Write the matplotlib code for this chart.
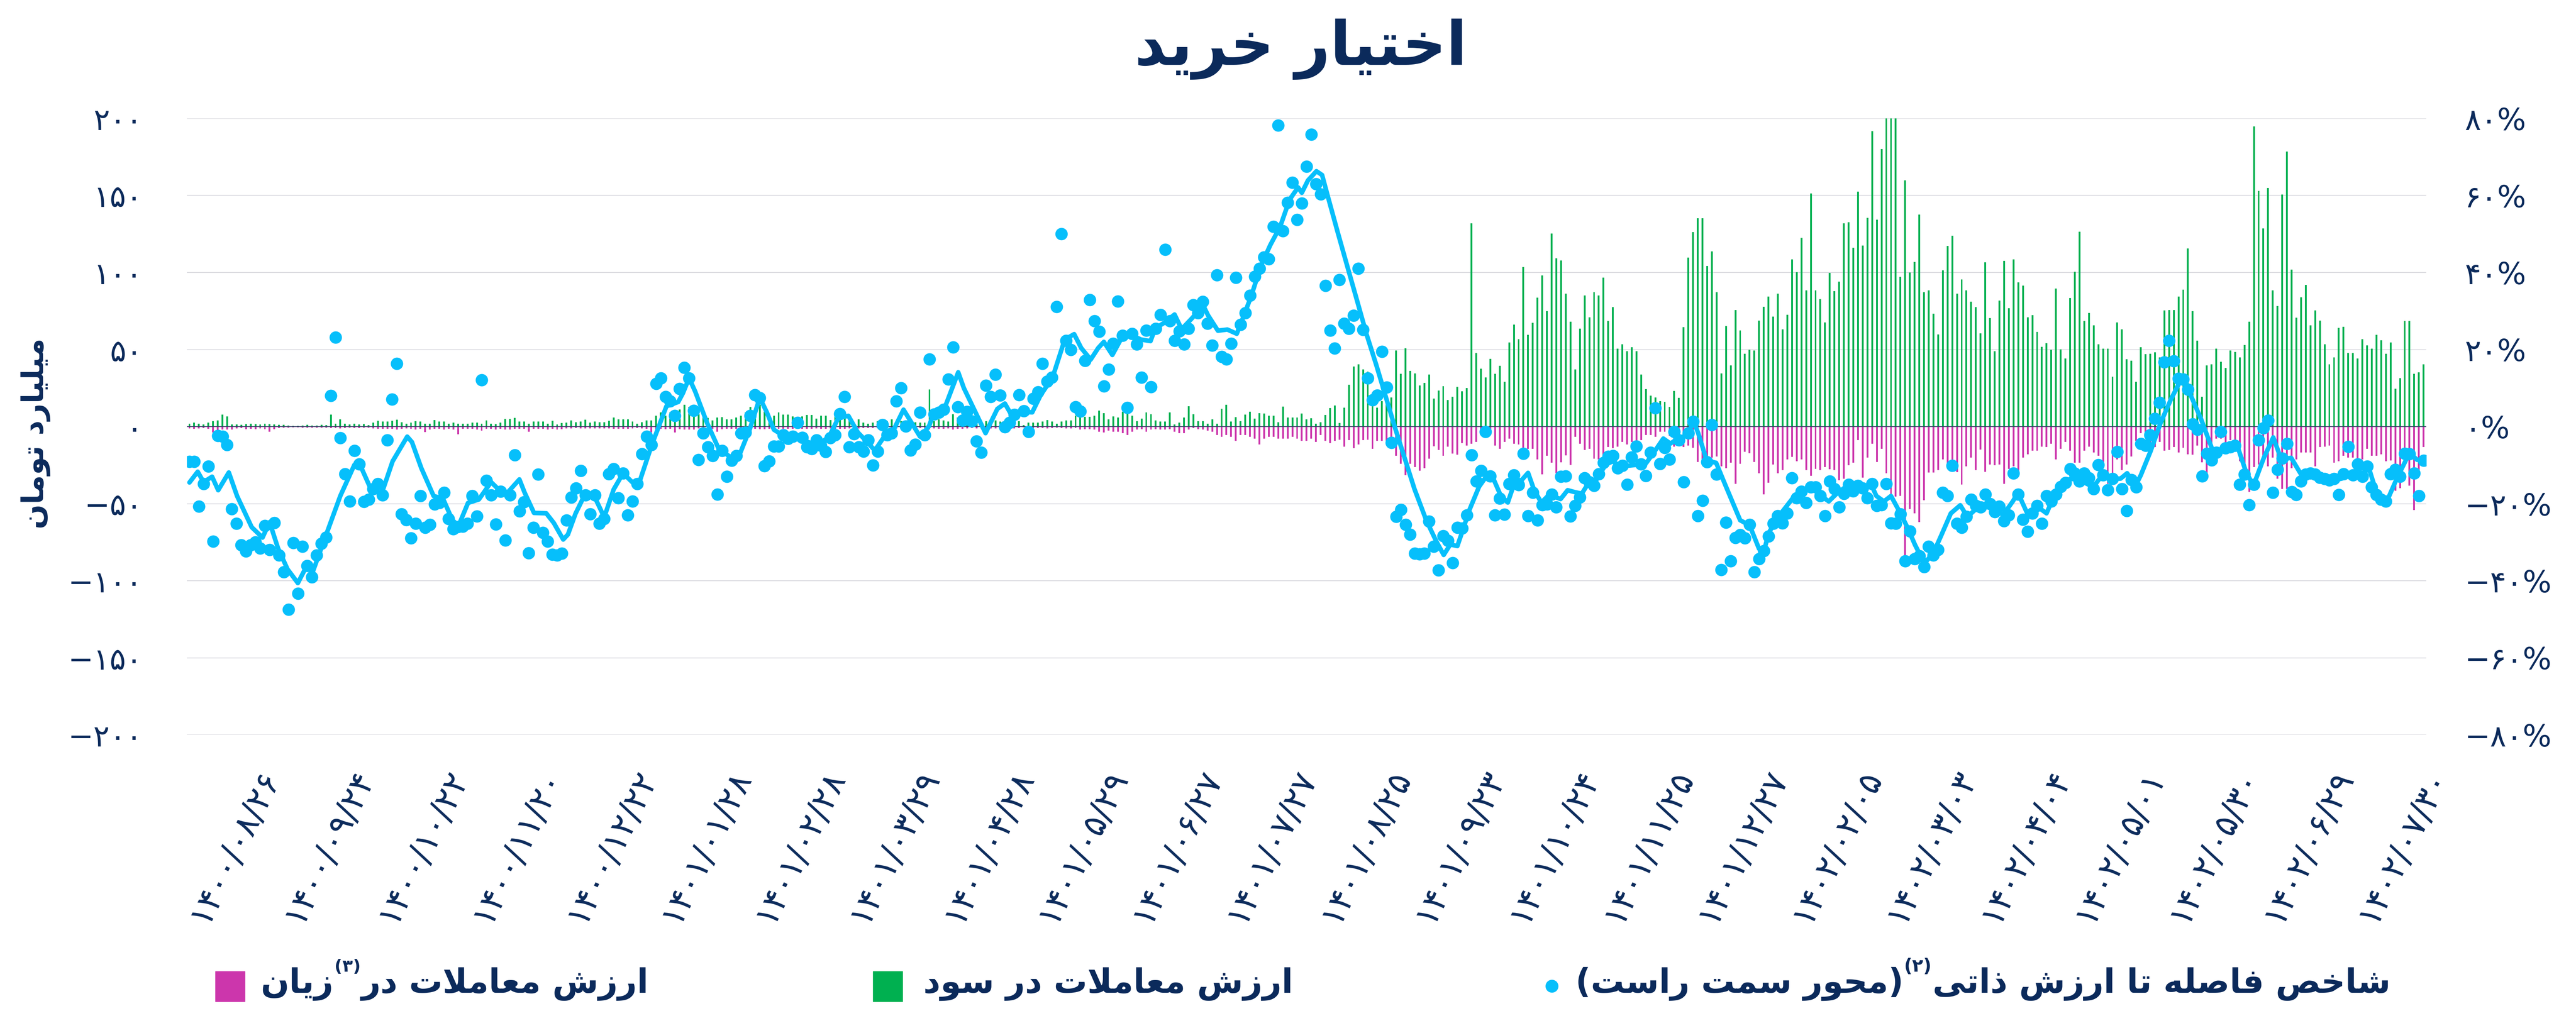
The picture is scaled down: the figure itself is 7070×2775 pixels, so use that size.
import numpy as np
import matplotlib
matplotlib.use("Agg")
import matplotlib.pyplot as plt
from matplotlib.patches import Rectangle, Ellipse

# ---------------- data ----------------
dates = ['۱۴۰۰/۰۸/۲۶', '۱۴۰۰/۰۹/۲۴', '۱۴۰۰/۱۰/۲۲', '۱۴۰۰/۱۱/۲۰', '۱۴۰۰/۱۲/۲۲',
         '۱۴۰۱/۰۱/۲۸', '۱۴۰۱/۰۲/۲۸', '۱۴۰۱/۰۳/۲۹', '۱۴۰۱/۰۴/۲۸', '۱۴۰۱/۰۵/۲۹',
         '۱۴۰۱/۰۶/۲۷', '۱۴۰۱/۰۷/۲۷', '۱۴۰۱/۰۸/۲۵', '۱۴۰۱/۰۹/۲۳', '۱۴۰۱/۱۰/۲۴',
         '۱۴۰۱/۱۱/۲۵', '۱۴۰۱/۱۲/۲۷', '۱۴۰۲/۰۲/۰۵', '۱۴۰۲/۰۳/۰۳', '۱۴۰۲/۰۴/۰۴',
         '۱۴۰۲/۰۵/۰۱', '۱۴۰۲/۰۵/۳۰', '۱۴۰۲/۰۶/۲۹', '۱۴۰۲/۰۷/۳۰']
date_pos = [14 + 20 * k for k in range(len(dates))]

# value of trades in profit (billion toman)
profit = [
    1.8, 2.5, 2.0, 1.4, 2.5, 3.6, 4.1, 7.7, 6.6, 1.4, 1.4, 1.1, 1.6, 1.8, 1.6, 1.4, 1.8, 1.6, 1.4, 1.1,
    1.1, 0.7, 0.5, 0.5, 0.7, 1.1, 0.7, 0.7, 1.1, 0.9, 7.7, 1.8, 4.8, 1.8, 1.4, 1.8, 1.4, 1.6, 0.9, 2.7,
    3.8, 3.2, 3.2, 3.8, 4.5, 2.9, 1.8, 2.7, 3.6, 3.2, 1.8, 2.0, 4.3, 3.4, 3.4, 1.8, 2.7, 1.8, 1.8, 1.8,
    2.5, 2.5, 1.8, 4.1, 2.0, 1.6, 2.7, 5.0, 5.0, 5.7, 3.4, 3.4, 2.0, 3.4, 3.4, 3.2, 2.0, 3.8,
    1.4, 2.3, 2.5, 4.1, 2.9, 3.2, 4.5, 2.7, 3.4, 2.9, 2.9, 3.8, 5.9, 4.8, 4.8, 4.8, 3.2, 2.0, 2.9, 4.1,
    4.1, 7.0, 9.3, 7.0, 9.3, 7.0, 11.1, 14.3, 12.7, 11.1, 8.1, 7.0, 5.7, 4.1, 5.9, 6.1, 4.8, 4.8, 5.9, 7.0,
    9.3, 12.7, 8.4, 14.3, 9.7, 7.0, 7.0, 9.3, 7.9, 7.7, 6.6, 6.1, 6.6, 7.5, 7.5, 5.2, 7.0, 7.0, 4.3, 8.1,
    9.3, 7.0, 4.1, 2.5, 4.8, 2.5, 1.8, 2.5, 3.6, 3.6, 3.6, 4.8, 3.6, 3.6, 4.1, 3.2, 2.9, 2.5, 2.5, 24.0,
    3.6, 4.8, 4.1, 3.2, 8.1, 5.9, 4.8, 3.6, 2.9, 3.2, 3.2, 3.6, 3.2, 4.1, 3.2, 2.9, 3.2, 2.9, 3.6, 0.9,
    2.5, 2.5, 2.7, 3.2, 4.3, 3.2, 2.0, 3.2, 4.1, 4.1, 7.0, 7.0, 6.3, 6.3, 7.0, 10.4, 8.8, 4.8, 6.6, 5.9,
    9.7, 9.3, 7.0, 3.6, 5.2, 9.3, 8.1, 4.1, 3.2, 3.2, 9.3, 1.4, 2.5, 5.9, 13.3, 8.1, 3.6, 3.6, 1.8, 4.8,
    1.8, 11.5, 14.3, 3.2, 6.1, 3.6, 7.9, 9.7, 5.2, 8.8, 8.4, 7.0, 7.0, 2.9, 13.1, 5.9, 5.9, 5.9,
    8.6, 4.8, 5.4, 2.0, 2.9, 7.5, 12.0, 13.8, 2.3, 12.2, 27.1, 38.9, 40.5, 37.1, 35.7, 18.3, 12.2, 16.5, 17.2,
    18.8, 49.3, 34.2, 50.9, 36.2, 34.6, 26.7, 28.3, 33.9, 18.3, 23.3, 26.2, 17.2, 19.5, 25.8, 22.9, 25.1,
    131.9, 47.7, 37.6, 31.9, 43.9, 34.2, 39.4, 29.0, 54.5, 66.3, 56.8, 103.6, 59.5, 67.4, 83.7, 98.2, 74.9,
    125.3, 109.3, 107.7, 86.2, 68.1, 37.1, 63.6, 85.1, 71.0, 87.3, 85.1, 96.8, 68.6, 77.6, 50.5, 53.4,
    48.9, 51.6, 48.9, 33.7, 24.4, 20.1, 18.8, 16.5, 16.1, 12.7,
    23.1, 18.6, 64.5, 109.7, 126.2, 135.3, 135.3, 104.3, 113.8, 87.3, 34.6, 65.2, 39.8, 75.6, 62.4, 47.3,
    50.0, 49.5, 68.8, 77.8, 84.4, 71.5, 86.2, 63.1, 72.6, 108.6, 100.2, 122.4, 88.5, 151.4, 88.5, 82.8,
    67.6, 99.8, 88.0, 94.1, 131.9, 132.6, 116.1, 152.5, 117.4, 135.5, 191.8, 134.2, 180.1, 215.0, 225.0,
    210.0, 97.1, 159.7, 100.0, 106.8, 137.6, 87.3, 88.5, 73.3, 59.7, 101.4, 117.2, 123.9, 86.4, 95.5,
    88.5, 81.0, 77.6, 60.6, 106.6, 70.4, 48.9, 81.7, 107.5, 76.9, 108.6, 93.7, 91.4, 71.0, 72.3, 61.5, 51.8,
    54.1, 49.8, 89.6, 50.2, 44.1, 83.5, 100.5, 126.5, 68.6, 73.8, 65.8, 53.4, 50.5, 50.7, 32.3, 67.6,
    63.1, 43.7, 42.8, 29.0, 51.6, 47.1, 47.3, 48.2, 45.0, 75.3, 75.6, 75.6, 84.4, 88.9, 115.6, 74.9,
    55.7, 19.5, 39.8, 40.5, 50.5, 42.1, 38.0, 49.5, 48.4, 45.0, 52.9, 68.1, 194.8, 152.9, 128.5, 154.8,
    88.5, 78.3, 150.7, 178.5, 101.9, 70.8, 83.9, 91.9, 65.8, 75.3, 68.8, 53.4, 40.5, 44.8, 64.0, 64.7,
    47.7, 47.7, 44.3, 56.8, 52.7, 50.5, 59.5, 56.1, 47.3, 54.5, 24.6, 31.4, 68.6, 68.6, 34.2, 35.3, 40.5]

# value of trades in loss (billion toman, magnitude)
loss = [
    1.2, 1.5, 1.2, 1.0, 1.5, 3.8, 3.2, 1.8, 2.0, 2.0, 1.2, 1.0, 1.6, 1.5, 1.6, 1.2, 1.6, 3.2, 1.6, 1.0,
    0.8, 0.6, 0.5, 0.5, 0.6, 0.8, 0.6, 0.6, 0.8, 0.8, 1.0, 1.0, 1.2, 1.0, 0.8, 1.0, 1.0, 0.8, 0.8, 1.2,
    1.5, 1.5, 1.5, 1.5, 1.8, 1.5, 1.2, 1.5, 1.8, 1.5, 3.6, 1.8, 1.5, 1.5, 1.8, 1.5, 1.8, 5.0, 1.5, 1.5,
    1.5, 1.8, 2.5, 1.5, 1.5, 1.8, 1.5, 1.8, 1.8, 1.5, 1.5, 1.5, 3.2, 1.5, 1.5, 1.5, 1.8, 1.5,
    2.0, 1.6, 1.2, 1.2, 1.0, 1.2, 1.2, 1.2, 1.2, 1.2, 1.2, 1.2, 1.5, 1.5, 1.5, 1.5, 1.2, 1.0, 1.2, 1.5,
    3.8, 1.6, 1.5, 1.6, 1.5, 3.8, 1.6, 2.0, 2.0, 2.0, 1.2, 1.2, 1.5, 1.5, 3.2, 1.6, 1.5, 1.5, 1.5, 1.6,
    1.5, 1.6, 1.5, 1.6, 1.6, 1.5, 1.5, 1.5, 1.5, 1.5, 1.5, 1.5, 1.5, 1.5, 1.5, 1.2, 1.5, 1.5, 1.2, 1.5,
    1.5, 1.5, 1.2, 1.0, 1.2, 1.0, 1.0, 1.0, 1.0, 1.2, 1.2, 1.2, 1.2, 1.2, 1.2, 1.0, 1.0, 1.0, 1.0, 2.0,
    1.2, 1.5, 1.5, 1.2, 2.0, 1.5, 1.5, 1.2, 1.0, 1.2, 1.2, 1.2, 1.2, 1.2, 1.2, 1.0, 1.0, 1.2, 1.0, 0.5,
    1.0, 1.0, 1.0, 1.0, 1.2, 1.0, 0.8, 1.0, 1.2, 1.2,
    0.9, 2.0, 1.6, 1.6, 2.0, 3.2, 3.8, 2.5, 3.2, 3.2, 4.3, 5.4, 3.2, 2.0, 1.6, 3.2, 2.0, 1.6, 2.0, 2.0,
    1.6, 3.2, 4.3, 4.3, 2.0, 0.9, 1.6, 2.0, 2.5, 3.2, 5.4, 6.6, 5.4, 6.6, 9.3, 5.4, 5.4, 6.6, 7.7, 11.5,
    7.7, 6.6, 6.6, 7.7, 7.7, 7.7, 6.6, 7.7,
    9.3, 9.3, 7.7, 10.0, 5.4, 9.3, 10.6, 9.3, 8.4, 12.9, 8.8, 14.0, 11.5, 8.8, 8.4, 14.5, 9.3, 9.3, 9.3,
    11.8, 19.0, 24.2, 31.4, 24.2, 26.2, 28.5, 26.9, 20.8, 12.7, 15.2, 19.0, 12.9, 17.4, 18.3, 10.6, 12.2,
    11.1, 10.0, 5.4, 5.4, 5.4, 12.2, 14.5, 10.0, 7.7, 11.1, 11.5, 14.5, 14.5, 14.5, 21.3, 31.0, 19.0,
    23.5, 30.3, 23.1, 18.6, 24.9, 6.6, 11.1, 15.2, 14.5, 20.8, 21.3, 20.1, 13.3, 14.0, 12.9, 10.0,
    11.5, 10.0, 10.0, 8.8, 5.4, 5.4, 6.6, 3.2, 3.2, 6.0,
    13.0, 12.2, 13.3, 12.2, 13.8, 22.9, 21.3, 25.8, 20.1, 19.5, 25.8, 26.9, 23.5, 37.1, 24.0, 16.3,
    17.2, 22.9, 30.3, 43.9, 36.4, 24.7, 30.3, 28.1, 21.3, 19.7, 22.4, 21.3, 28.1, 31.9, 27.4, 28.1,
    26.2, 27.6, 28.1, 34.8, 33.7, 25.1, 23.5, 8.8, 33.0, 20.1, 11.1, 22.9, 14.5, 30.3, 45.5, 45.5,
    45.0, 83.5, 53.4, 56.3, 61.9, 47.7, 29.9, 29.9, 28.1, 21.3, 26.9, 24.7, 29.6, 37.6, 25.8, 20.1,
    28.1, 15.0, 29.2, 24.7, 25.1, 24.7, 37.1, 27.4, 25.8, 29.6, 20.1, 17.9, 15.6, 15.6, 12.9,
    13.3, 11.1, 21.3, 14.5, 10.0, 15.6, 23.5, 23.5, 15.6, 12.9, 16.7, 19.0, 26.9, 37.1, 31.4, 21.3,
    28.1, 24.7, 19.5, 9.3, 4.3, 6.6, 12.2, 13.3, 10.0, 15.6, 15.2, 13.3, 16.7, 13.8, 17.9, 18.3,
    12.2, 23.1, 32.6, 20.1, 7.7, 7.7, 11.1, 8.8, 11.1, 22.4, 33.7, 42.3, 26.2, 24.7, 20.1, 25.8,
    20.1, 33.7, 40.5, 40.5, 26.9, 21.3, 16.7, 16.7, 16.7, 25.8, 13.3, 12.9, 12.2, 23.5, 22.4, 19.0,
    20.1, 20.1, 21.3, 21.3, 14.5, 19.0, 19.0, 17.9, 22.4, 21.9, 41.6, 40.0, 22.4, 38.2, 54.1, 32.6, 13.2]

# gap to intrinsic value index (%), daily points
gap_pct = [
    -9.1, -9.1, -20.7, -14.8, -10.3, -29.8, -2.4, -2.6, -4.7, -21.4, -25.2, -30.7, -32.3, -30.7, -30.0,
    -31.6, -25.7, -32.0, -25.0, -33.4, -37.7, -47.5, -30.2, -43.3, -31.1, -36.1, -39.1, -33.4, -30.4,
    -28.7, 8.0, 23.2, -2.9, -12.3, -19.4, -6.2, -9.7, -19.5, -18.9, -16.2, -14.8, -17.8, -3.5, 7.1, 16.4,
    -22.7, -24.2, -28.9, -25.2, -18.0, -26.2, -25.4, -20.1, -19.8, -17.1, -23.9, -26.6, -26.0, -25.9,
    -25.2, -18.0, -23.3, 12.1, -14.0, -17.8, -25.3, -16.8, -29.5, -17.8, -7.4, -21.9, -19.6, -32.8,
    -26.2, -12.4, -27.5, -29.8, -33.2,
    -33.4, -32.9, -24.3, -18.3, -16.0, -11.4, -17.8, -22.7, -17.8, -25.2, -23.9, -12.3, -11.0, -18.5,
    -12.1, -23.0, -19.4, -14.8, -7.1, -2.6, -4.7, 11.2, 12.6, 7.8, 6.6, 2.8, 9.8, 15.3, 12.6, 4.2, -8.6,
    -1.7, -5.3, -7.6, -17.6, -6.2, -13.0, -8.8, -7.6, -1.7, -1.5, 2.8, 8.2, 7.5, -10.2, -9.0, -5.1, -5.1,
    -2.2, -3.1, -2.6, 1.0, -2.8, -5.3, -5.8, -3.5, -4.9, -6.5, -2.9, -2.2, 3.3, 7.8, -5.3, -1.9, -5.3,
    -6.4, -3.5, -10.0, -6.4, 0.5, -2.2, -1.7, 6.6, 10.0, 0.1, -6.1, -4.6, 3.7, -2.2, 17.5,
    3.2, 3.7, 4.4, 12.3, 20.6, 5.1, 1.6, 3.9, 1.4, -3.8, -6.7, 10.7, 7.8, 13.5, 8.1, -0.1, 1.0, 3.1, 8.2,
    4.1, -1.3, 7.3, 9.0, 16.4, 11.7, 12.8, 31.1, 50.0, 22.3, 20.0, 5.1, 4.0, 17.1, 32.9, 27.4, 24.7, 10.5,
    14.8, 21.6, 32.5, 23.6, 4.9, 24.1, 21.4, 12.8, 25.0, 10.3, 25.4, 29.0, 46.0, 27.4, 22.3, 24.8, 21.4,
    25.4, 31.6, 29.5, 32.4, 26.8, 21.1, 39.3, 18.2, 17.5, 21.6, 38.7, 26.5, 29.5, 34.0, 39.0, 41.0, 44.0,
    43.5, 51.9, 78.2, 50.8, 58.2, 63.4, 53.7,
    58.0, 67.5, 75.8, 63.0, 60.3, 36.6, 25.0, 20.3, 38.1, 26.8, 25.4, 28.8, 41.0, 25.2, 12.6, 6.9, 8.1,
    19.5, 10.2, -4.2, -23.4, -21.6, -25.4, -28.0, -32.9, -33.1, -32.9, -24.6, -31.1, -37.3, -28.4, -29.6,
    -35.4, -26.2, -26.4, -23.0, -7.4, -14.2, -11.4, -1.3, -12.9, -23.0, -18.6, -22.8, -14.8, -12.6,
    -15.1, -7.0, -23.2, -17.1, -24.3, -20.3, -20.1, -17.6, -20.9, -13.0, -12.9, -23.3, -20.5, -18.3,
    -13.3, -14.4, -15.3, -12.3, -9.4, -7.8, -7.6, -10.8, -10.1, -15.0, -7.9, -5.1, -9.7, -12.8, -6.7,
    4.8, -9.6, -5.5, -8.5,
    -1.3, -3.5, -14.4, -1.7, 1.3, -23.2, -19.2, -9.2, 0.5, -12.4, -37.2, -24.9, -34.9, -28.8, -28.1,
    -28.9, -25.4, -37.7, -34.3, -32.2, -28.5, -25.2, -23.2, -25.1, -22.5, -13.3, -18.5, -16.8, -19.8,
    -15.7, -15.7, -18.0, -23.2, -14.2, -16.2, -20.9, -17.4, -15.0, -16.7, -15.3, -16.0, -18.5, -14.8,
    -20.5, -20.3, -14.8, -25.1, -25.2, -22.7, -34.9, -27.1, -34.3, -33.6, -36.4, -31.1, -33.4, -32.0,
    -17.1, -18.0, -10.1, -25.2, -26.2, -23.4, -18.9, -20.5, -20.9, -17.6, -20.0, -22.1, -20.7, -24.5,
    -23.0, -12.1, -17.6, -24.1, -27.2, -22.5, -20.5, -25.2,
    -18.0, -19.4, -17.6, -15.6, -14.6, -11.0, -12.1, -14.2, -12.1, -13.3, -16.2, -9.9, -12.6, -16.5,
    -13.5, -6.5, -16.2, -21.8, -13.8, -15.7, -4.4, -4.9, -2.2, 2.1, 6.2, 16.7, 22.3, 17.0, 12.5, 12.3,
    9.6, 0.7, -0.8, -12.9, -7.0, -8.7, -6.7, -1.3, -5.6, -5.3, -4.9, -15.0, -12.4, -20.3, -15.0, -3.5,
    -0.4, 1.6, -17.1, -11.2, -8.2, -4.4, -16.9, -17.7, -14.2, -12.4, -12.1, -12.4, -13.2, -13.5, -13.9,
    -13.5, -17.7, -12.3, -5.2, -12.6, -9.7, -13.0, -10.3, -15.7, -17.7, -18.9, -19.4, -12.3, -11.2,
    -13.0, -7.0, -7.1, -12.1, -18.0, -8.8]

# smoothed line of the same index (position on category axis, %)
line_pos = [
    0, 1.75, 3.0, 4.8, 6.1, 8.35, 10.1, 13.2, 15.5, 17.0, 18.8, 20.8, 23.0, 24.9, 26.1, 28.9, 32.0, 35.0,
    36.0, 38.3, 40.1, 41.1, 43.1, 46.2, 47.2, 49.2, 51.8, 53.8, 55.8, 57.1, 59.1, 61.4, 64.0, 65.5, 67.5,
    70.0, 71.1, 73.1, 75.7, 77.3, 79.3, 80.3, 81.9, 83.7, 85.9, 88.0, 90.0, 92.0, 94.6, 95.6, 98.1, 101.2,
    103.7, 104.7, 106.0, 107.3, 109.8, 112.3, 114.9, 116.9, 118.9, 121.0, 122.5, 124.0, 126.1, 128.1,
    130.1, 132.2, 134.2, 135.7, 137.7, 139.8, 141.8, 143.8, 145.4, 147.9, 149.4, 151.5, 153.0, 155.0,
    156.9, 157.7, 160.3, 163.1, 164.3, 168.9, 171.4, 173.0, 174.5, 176.5, 178.8, 180.6, 183.1, 185.7,
    187.7, 189.2, 191.2, 192.8, 194.0, 195.8, 197.8, 199.9, 201.9, 203.9, 204.9, 207.0, 209.0, 210.5,
    212.6, 215.1, 216.1, 218.2, 220.2, 222.2, 223.2, 225.3, 227.3, 229.3, 231.4, 233.4, 235.2, 236.0,
    237.3, 239.1, 240.3, 241.6, 243.6, 245.7, 247.7, 249.7, 251.8, 253.8, 255.8, 257.9, 259.9, 262.4,
    264.5, 266.1, 267.5, 269.0, 270.0, 271.6, 273.6, 275.1, 276.6, 278.2, 279.7, 281.2, 282.7, 284.0,
    285.3, 286.8, 288.3, 289.8, 290.9, 292.4, 293.9, 295.4, 297.0, 298.5, 300.5, 302.0, 303.6, 305.6,
    307.1, 309.1, 311.2, 312.7, 314.2, 315.8, 317.8, 319.1, 320.1, 321.9, 323.9, 325.9, 329.0, 331.0,
    333.0, 334.1, 335.1, 337.1, 340.2, 342.2, 344.2, 345.7, 347.8, 349.3, 351.3, 354.4, 356.9, 357.9,
    359.5, 361.0, 363.0, 364.5, 366.1, 367.6, 368.6, 370.1, 371.6, 373.7, 375.7, 377.2, 379.3, 381.3,
    382.8, 384.8, 386.9, 387.9, 389.9, 392.0, 394.0, 395.1, 396.9, 399.1, 401.2, 403.3, 404.4, 405.5,
    407.6, 409.7, 411.1, 412.9, 414.0, 416.1, 418.2, 420.4, 422.2, 423.6, 424.6, 426.8, 429.4, 431.0,
    433.1, 434.7, 436.3, 437.9, 440.1, 442.1, 443.8, 445.9, 448.1, 450.2, 452.3, 454.4, 456.6, 458.7,
    460.8, 462.4, 464.0, 466.2, 468.3, 469.4, 471.0, 472.6, 474.0]
line_pct = [
    -14.5, -11.7, -14.4, -13.0, -16.5, -11.9, -18.0, -26.1, -28.8, -24.8, -31.6, -37.0, -40.6, -36.1,
    -37.9, -28.4, -18.0, -9.9, -9.4, -15.7, -15.1, -16.2, -9.0, -2.6, -4.0, -10.8, -18.0, -18.7, -24.3,
    -25.7, -19.8, -18.9, -14.4, -16.2, -17.1, -13.7, -17.1, -22.4, -22.5, -25.0, -29.3, -28.0, -22.6,
    -18.1, -18.1, -23.5, -16.3, -12.1, -15.2, -13.9, -4.7, 5.3, 6.4, 8.7, 12.6, 9.1, 1.0, -5.8, -8.0,
    -6.7, -0.6, 7.5, 3.7, -0.8, -2.4, -3.1, -3.5, -4.4, -4.0, -2.6, 2.3, 2.8, -1.5, -4.0, -6.2, -1.7,
    -0.8, 4.4, 1.4, -2.6, 0.1, 2.8, 5.1, 14.1, 10.0, -1.7, 4.6, 6.0, 2.8, 3.9, 3.7, 8.2, 12.7, 22.6,
    24.0, 20.4, 17.4, 20.4, 22.0, 18.6, 23.1, 23.7, 22.6, 22.2, 25.5, 27.1, 29.1, 25.3, 28.0, 31.4,
    28.9, 24.9, 25.2, 24.1, 27.2, 34.0, 41.7, 47.1, 51.9, 58.9, 62.1, 60.7, 63.9, 66.3, 65.3, 59.4,
    50.5, 41.4, 32.8, 24.1, 16.0, 7.8, -0.4, -8.5, -16.2, -24.3, -29.7, -33.3, -30.6, -31.0, -27.4,
    -21.5, -15.6, -13.0, -13.4, -17.9, -19.7, -14.3, -13.8, -12.0, -16.5, -19.7, -17.9, -18.3, -18.8,
    -16.5, -17.0, -17.4, -14.3, -13.8, -9.8, -9.0, -10.3, -10.1, -9.9, -9.4, -5.8, -3.1, -4.4, -3.1,
    -2.2, 1.4, -1.7, -8.8, -9.4, -15.3, -24.3, -25.6, -31.7, -32.0, -27.5, -23.4, -18.5, -17.1, -15.7,
    -17.6, -19.4, -17.6, -15.7, -15.7, -15.3, -18.0, -19.4, -18.0, -22.5, -26.2, -30.7, -34.3, -34.8,
    -32.5, -28.4, -22.5, -20.4, -23.4, -21.1, -19.8, -21.5, -22.9, -19.3, -17.1, -22.5, -20.7, -22.5,
    -19.4, -15.3, -13.5, -14.0, -15.3, -14.9, -13.1, -13.5, -13.5, -12.1, -15.3, -12.6, -6.3, 1.0, 7.1,
    11.4, 11.0, 8.1, 1.9, -6.7, -6.2, -5.5, -5.8, -11.7, -15.3, -8.1, -2.8, -8.5, -8.1, -12.6, -12.6,
    -13.1, -14.0, -13.5, -12.1, -10.8, -10.8, -17.1, -19.4, -13.5, -10.8, -6.8, -8.6, -8.8]

# ---------------- persian shaping helpers ----------------
FORMS = {
    'ا': ('\uFE8D', '\uFE8E', None, None), 'آ': ('\uFE81', '\uFE82', None, None),
    'ب': ('\uFE8F', '\uFE90', '\uFE91', '\uFE92'), 'پ': ('\uFB56', '\uFB57', '\uFB58', '\uFB59'),
    'ت': ('\uFE95', '\uFE96', '\uFE97', '\uFE98'), 'ث': ('\uFE99', '\uFE9A', '\uFE9B', '\uFE9C'),
    'ج': ('\uFE9D', '\uFE9E', '\uFE9F', '\uFEA0'), 'چ': ('\uFB7A', '\uFB7B', '\uFB7C', '\uFB7D'),
    'ح': ('\uFEA1', '\uFEA2', '\uFEA3', '\uFEA4'), 'خ': ('\uFEA5', '\uFEA6', '\uFEA7', '\uFEA8'),
    'د': ('\uFEA9', '\uFEAA', None, None), 'ذ': ('\uFEAB', '\uFEAC', None, None),
    'ر': ('\uFEAD', '\uFEAE', None, None), 'ز': ('\uFEAF', '\uFEB0', None, None),
    'ژ': ('\uFB8A', '\uFB8B', None, None),
    'س': ('\uFEB1', '\uFEB2', '\uFEB3', '\uFEB4'), 'ش': ('\uFEB5', '\uFEB6', '\uFEB7', '\uFEB8'),
    'ص': ('\uFEB9', '\uFEBA', '\uFEBB', '\uFEBC'), 'ض': ('\uFEBD', '\uFEBE', '\uFEBF', '\uFEC0'),
    'ط': ('\uFEC1', '\uFEC2', '\uFEC3', '\uFEC4'), 'ظ': ('\uFEC5', '\uFEC6', '\uFEC7', '\uFEC8'),
    'ع': ('\uFEC9', '\uFECA', '\uFECB', '\uFECC'), 'غ': ('\uFECD', '\uFECE', '\uFECF', '\uFED0'),
    'ف': ('\uFED1', '\uFED2', '\uFED3', '\uFED4'), 'ق': ('\uFED5', '\uFED6', '\uFED7', '\uFED8'),
    'ک': ('\uFB8E', '\uFB8F', '\uFB90', '\uFB91'), 'گ': ('\uFB92', '\uFB93', '\uFB94', '\uFB95'),
    'ل': ('\uFEDD', '\uFEDE', '\uFEDF', '\uFEE0'), 'م': ('\uFEE1', '\uFEE2', '\uFEE3', '\uFEE4'),
    'ن': ('\uFEE5', '\uFEE6', '\uFEE7', '\uFEE8'), 'و': ('\uFEED', '\uFEEE', None, None),
    'ه': ('\uFEE9', '\uFEEA', '\uFEEB', '\uFEEC'), 'ی': ('\uFBFC', '\uFBFD', '\uFBFE', '\uFBFF'),
}


def dual(c):
    return c in FORMS and FORMS[c][2] is not None


def shape(s):
    out = []
    i = 0
    n = len(s)
    while i < n:
        c = s[i]
        if c not in FORMS:
            out.append(c)
            i += 1
            continue
        prev = s[i - 1] if i > 0 else ''
        nxt = s[i + 1] if i + 1 < n else ''
        jp = dual(prev)
        if c == 'ل' and nxt == 'ا':
            out.append('\uFEFC' if jp else '\uFEFB')
            i += 2
            continue
        jn = dual(c) and nxt in FORMS
        f = FORMS[c]
        if jp and jn:
            out.append(f[3])
        elif jp:
            out.append(f[1])
        elif jn:
            out.append(f[2])
        else:
            out.append(f[0])
        i += 1
    return ''.join(reversed(out))


FA = str.maketrans('0123456789', '۰۱۲۳۴۵۶۷۸۹')


def fa(v):
    s = str(abs(int(v))).translate(FA)
    return ('−' + s) if v < 0 else s


# ---------------- style ----------------
plt.rcParams['font.family'] = ['DejaVu Sans']
NAVY = '#0B2A5B'
CYAN = '#06BFFB'
GREEN = '#00B050'
MAGENTA = '#CC36AC'
W, H = 7070, 2775

fig = plt.figure(figsize=(W / 100, H / 100), dpi=100)
fig.patch.set_facecolor('white')

ax = fig.add_axes([513 / W, 1 - 2017 / H, (6659 - 513) / W, (2017 - 325) / H])
ax2 = ax.twinx()

x = np.arange(len(profit))
ax.bar(x, profit, width=0.38, color=GREEN, zorder=2)
ax.bar(x, [-v for v in loss], width=0.38, color=MAGENTA, zorder=2)
ax.axhline(0, color='#3A3A66', lw=1.6, zorder=3)

ax.set_xlim(-0.54, 474.56)
ax.set_ylim(-200, 200)
ax.set_yticks(range(-200, 201, 50))
ax.set_yticklabels([fa(v) for v in range(-200, 201, 50)])
ax.yaxis.grid(True, color='#D6D6DC', lw=1.6)
ax.set_axisbelow(True)
ax.set_xticks(date_pos)
ax.set_xticklabels(dates, rotation=64, ha='right', va='top', rotation_mode='anchor')
ax.tick_params(axis='x', length=0, pad=58, labelsize=66, labelcolor=NAVY)
ax.tick_params(axis='y', length=0, pad=88, labelsize=60, labelcolor=NAVY)

ax2.plot(line_pos, line_pct, color=CYAN, lw=9, solid_joinstyle='round',
         solid_capstyle='round', zorder=4)
ax2.scatter(x, gap_pct, s=600, color=CYAN, linewidths=0, zorder=5)
ax2.set_ylim(-80, 80)
ax2.set_yticks(range(-80, 81, 20))
ax2.set_yticklabels([fa(v) + '%' for v in range(-80, 81, 20)], ha='left')
ax2.tick_params(axis='y', length=0, pad=76, labelsize=60, labelcolor=NAVY)

for a in (ax, ax2):
    for sp in a.spines.values():
        sp.set_visible(False)

# title and axis title
fig.text(3570 / W, 1 - 135 / H, shape('اختیار خرید'), ha='center', va='center',
         fontsize=120, fontweight='bold', color=NAVY)
fig.text(98 / W, 1 - 1190 / H, shape('میلیارد تومان'), ha='center', va='center',
         rotation=90, fontsize=58, fontweight='bold', color=NAVY)

# ---------------- legend (manual, right-to-left) ----------------
fig.canvas.draw()
rend = fig.canvas.get_renderer()
LEG_SIZE = 66
BASE_Y = 2725


def rtl_row(pieces, x_right):
    xr = x_right
    for s, size, dy in pieces:
        t = fig.text(xr / W, 1 - (BASE_Y + dy) / H, s, ha='right', va='baseline',
                     fontsize=size, fontweight='bold', color=NAVY)
        bb = t.get_window_extent(rend)
        xr = xr - bb.width - 2
    return xr


left_a = rtl_row([(shape('شاخص فاصله تا ارزش ذاتی'), LEG_SIZE, 0),
                  ('(۲)', 36, -58),
                  ('(' + shape('محور سمت راست') + ')', LEG_SIZE, 0)], 6561)
fig.add_artist(Ellipse(((left_a - 62) / W, 1 - 2707 / H), 34 / W, 34 / H,
                       transform=fig.transFigure, color=CYAN))

left_b = rtl_row([(shape('ارزش معاملات در سود'), LEG_SIZE, 0)], 3549)
fig.add_artist(Rectangle(((left_b - 55 - 81) / W, 1 - 2749 / H), 81 / W, 83 / H,
                         transform=fig.transFigure, color=GREEN))

left_c = rtl_row([(shape('ارزش معاملات در'), LEG_SIZE, 0),
                  ('(۳)', 34, -58),
                  (shape('زیان'), LEG_SIZE, 0)], 1780)
fig.add_artist(Rectangle(((left_c - 42 - 81) / W, 1 - 2749 / H), 81 / W, 83 / H,
                         transform=fig.transFigure, color=MAGENTA))

fig.savefig('out.png', dpi=100, facecolor='white')
